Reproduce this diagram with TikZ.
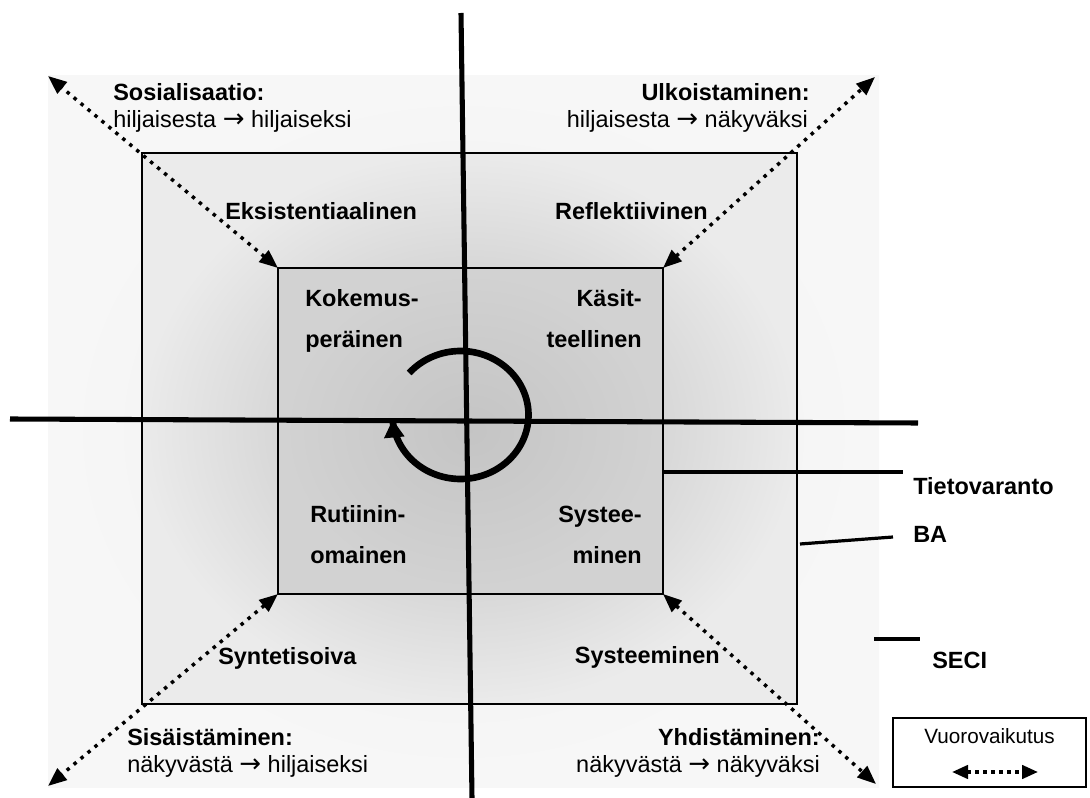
\documentclass[tikz,border=0pt]{standalone}
\usepackage{fontspec}
\setmainfont{Liberation Sans}
\newfontfamily\arrfont{DejaVu Sans}
\usetikzlibrary{arrows.meta}
\newcommand{\myarr}{{\arrfont\fontsize{19.5}{21}\selectfont →}}
\begin{document}
\begin{tikzpicture}[x=0.75pt,y=-0.75pt,
  txt/.style={inner sep=0pt, font=\fontsize{17.6}{21}\selectfont},
  btxt/.style={inner sep=0pt, font=\fontsize{17.6}{21}\selectfont\bfseries},
  axisline/.style={line width=3.8pt},
  tagline/.style={line width=2.4pt},
  dotarrow/.style={line width=2.6pt, dash pattern=on 2.6pt off 4.2pt,
    {Triangle[length=14pt,width=11pt]}-{Triangle[length=14pt,width=11pt]}},
  boxline/.style={line width=1.5pt}]
\useasboundingbox (0,0) rectangle (1090,798);
% corners
\coordinate (oTL) at (48,76);  \coordinate (oTR) at (875,77);
\coordinate (oBL) at (48,786); \coordinate (oBR) at (876,784);
\coordinate (mTL) at (142,153); \coordinate (mBR) at (797,704);
\coordinate (iTL) at (278,268); \coordinate (iTR) at (663,268);
\coordinate (iBL) at (278,594); \coordinate (iBR) at (663,594);
% outer area
\shade[inner color=gray!14, outer color=gray!6] (48,76) rectangle (879,787);
% middle rectangle (BA)
\shade[inner color=gray!52, outer color=gray!16] (mTL) rectangle (mBR);
\draw[boxline] (mTL) rectangle (mBR);
% inner rectangle (Tietovaranto)
\shade[inner color=gray!46, outer color=gray!35] (iTL) rectangle (iBR);
\draw[boxline] (iTL) rectangle (iBR);
% diagonal arrows
\draw[dotarrow] (iTL) -- (oTL);
\draw[dotarrow] (iTR) -- (oTR);
\draw[dotarrow] (iBL) -- (oBL);
\draw[dotarrow] (iBR) -- (oBR);
% axes
\coordinate (vT) at (461,13); \coordinate (vB) at (472,798);
\coordinate (hL) at (10,419); \coordinate (hR) at (918,423);
\draw[axisline] (vT) -- (vB);
\draw[axisline] (hL) -- (hR);
% cycle arrow
\draw[line width=5pt, -{Triangle[length=13.5pt,width=14.5pt]}]
  plot[domain=-139:176, samples=120, smooth] ({460.5+68*cos(\x)}, {415+64*sin(\x)});
% corner texts
\node[btxt, anchor=base west] (sos) at (113,101) {Sosialisaatio:};
\node[txt, anchor=base west] (sos2) at (113,128) {hiljaisesta \myarr{} hiljaiseksi};
\node[btxt, anchor=base east] (ulk) at (810,101) {Ulkoistaminen:};
\node[txt, anchor=base east] (ulk2) at (808,128) {hiljaisesta \myarr{} näkyväksi};
\node[btxt, anchor=base west] (sis) at (127,745) {Sisäistäminen:};
\node[txt, anchor=base west] (sis2) at (127,772) {näkyvästä \myarr{} hiljaiseksi};
\node[btxt, anchor=base east] (yhd) at (820,745) {Yhdistäminen:};
\node[txt, anchor=base east] (yhd2) at (820,772) {näkyvästä \myarr{} näkyväksi};
% BA texts
\node[btxt, anchor=base west] (eks) at (225,220) {Eksistentiaalinen};
\node[btxt, anchor=base east] (ref) at (708,220) {Reflektiivinen};
\node[btxt, anchor=base west] (syn) at (218,665) {Syntetisoiva};
\node[btxt, anchor=base east] (sys) at (720,664) {Systeeminen};
% inner texts
\node[btxt, anchor=base west] (kok1) at (305,307) {Kokemus-};
\node[btxt, anchor=base west] (kok2) at (305,348) {peräinen};
\node[btxt, anchor=base east] (kas1) at (642,307) {Käsit-};
\node[btxt, anchor=base east] (kas2) at (642,348) {teellinen};
\node[btxt, anchor=base west] (rut1) at (310,523) {Rutiinin-};
\node[btxt, anchor=base west] (rut2) at (310,564) {omainen};
\node[btxt, anchor=base east] (sy1) at (642,523) {Systee-};
\node[btxt, anchor=base east] (sy2) at (642,564) {minen};
% side labels
\node[btxt, anchor=base west] (tv) at (913,495) {Tietovaranto};
\node[btxt, anchor=base west] (ba) at (913,543) {BA};
\node[btxt, anchor=base west] (seci) at (932,668) {SECI};
\coordinate (tvA) at (663,472); \coordinate (tvB) at (903,472);
\coordinate (baA) at (800,544); \coordinate (baB) at (893,537);
\coordinate (seA) at (874,639); \coordinate (seB) at (920,639);
\draw[tagline] (tvA) -- (tvB);
\draw[tagline] (baA) -- (baB);
\draw[tagline] (seA) -- (seB);
% legend
\draw[boxline, fill=white] (893,718) rectangle (1086,787);
\node[txt, anchor=base, font=\fontsize{15.5}{19}\selectfont] (leg) at (989.5,743) {Vuorovaikutus};
\coordinate (lgA) at (952,772); \coordinate (lgB) at (1038,772);
\draw[line width=2.6pt, dash pattern=on 2.6pt off 3.4pt,
  {Triangle[length=12pt,width=10pt]}-{Triangle[length=12pt,width=10pt]}] (lgA) -- (lgB);
\end{tikzpicture}
\end{document}
